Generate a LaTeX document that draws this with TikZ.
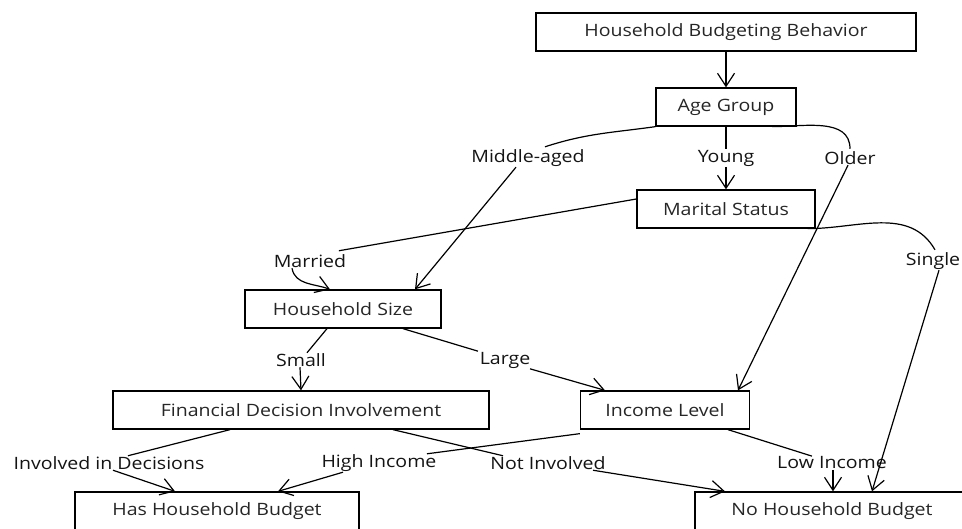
\documentclass[tikz,border=0pt]{standalone}
\usepackage{fontspec}
\setmainfont{Open Sans}[FakeStretch=1.15]
\usetikzlibrary{arrows.meta}
\begin{document}
\begin{tikzpicture}[x=1pt,y=-1pt,
  box/.style={draw=black,line width=1.3pt,rectangle,minimum height=38pt,inner sep=0pt,font=\fontsize{17}{19}\selectfont,text=black!85},
  lbl/.style={fill=white,inner sep=0.5pt,font=\fontsize{17}{19}\selectfont,text=black!92},
  edge/.style={draw=black,line width=1.2pt},
  arr/.style={edge,-{Straight Barb[length=13pt,width=17pt,line width=1.2pt]}}]
\useasboundingbox (0,0) rectangle (962,529);
% nodes
\node[box,minimum width=380pt] (hbb) at (726,32) {Household Budgeting Behavior};
\node[box,minimum width=140pt] (age) at (726,107) {Age Group};
\node[box,minimum width=178pt] (ms) at (726,209) {Marital Status};
\node[box,minimum width=196pt] (hs) at (343,309) {Household Size};
\node[box,minimum width=376pt] (fdi) at (301,410) {Financial Decision Involvement};
\node[box,minimum width=169pt] (inc) at (665,410) {Income Level};
\node[box,minimum width=284pt] (has) at (217,511) {Has Household Budget};
\node[box,minimum width=274pt] (no) at (832,511) {No Household Budget};
% labels
\node[lbl] (lmid) at (528,158) {Middle-aged};
\node[lbl] (lyoung) at (726,158) {Young};
\node[lbl] (lold) at (850,158) {Older};
\node[lbl] (lmar) at (310,261) {Married};
\node[lbl] (lsing) at (933,261) {Single};
\node[lbl] (lsmall) at (301,360) {Small};
\node[lbl] (llarge) at (505,360) {Large};
\node[lbl] (linv) at (109,463) {Involved in Decisions};
\node[lbl] (lhigh) at (379,463) {High Income};
\node[lbl] (lnot) at (548,463) {Not Involved};
\node[lbl] (llow) at (832,463) {Low Income};
% edges
\draw[arr] (hbb) -- (age);
\draw[edge] (age.south) -- (lyoung.north);
\draw[arr] (lyoung.south) -- (ms.north);
\draw[edge] (age.south west) to[out=188,in=18] ([xshift=17pt,yshift=2pt]lmid.north);
\draw[arr] ([xshift=-12pt]lmid.south) -- ([xshift=72pt]hs.north);
\draw[edge] ([xshift=46pt]age.south) to[out=0,in=90] ([yshift=2pt]lold.north);
\draw[arr] ([xshift=-2pt]lold.south) -- ([xshift=73pt]inc.north);
\draw[edge] ([yshift=10pt]ms.west) -- ([xshift=-8pt,yshift=3pt]lmar.north east);
\draw[arr] ([xshift=-18pt]lmar.south) to[out=-80,in=160] ([xshift=-13pt]hs.north);
\draw[edge] ([xshift=-8pt]ms.south east) to[out=0,in=120] ([xshift=2pt,yshift=2pt]lsing.north);
\draw[arr] ([xshift=6pt]lsing.south) -- ([xshift=40pt]no.north);
\draw[edge] ([xshift=-16pt]hs.south) -- ([xshift=6pt]lsmall.north);
\draw[arr] ([xshift=-1pt]lsmall.south) -- (fdi.north);
\draw[edge] ([xshift=60pt]hs.south) -- ([xshift=-27pt]llarge.north);
\draw[arr] ([xshift=25pt]llarge.south) -- ([xshift=-60pt]inc.north);
\draw[edge] ([xshift=-71pt]fdi.south) -- ([xshift=19pt]linv.north);
\draw[arr] ([xshift=4pt]linv.south) -- ([xshift=-42pt]has.north);
\draw[edge] ([xshift=92pt]fdi.south) -- ([xshift=-45pt]lnot.north);
\draw[arr] ([xshift=45pt]lnot.south) -- ([xshift=-107pt]no.north);
\draw[edge] ([yshift=-4pt]inc.south west) -- ([xshift=48pt]lhigh.north);
\draw[arr] ([xshift=-36pt]lhigh.south) -- ([xshift=61pt]has.north);
\draw[edge] ([xshift=63pt]inc.south) -- ([xshift=-20pt]llow.north);
\draw[arr] ([xshift=1pt]llow.south) -- ([xshift=1pt]no.north);
\end{tikzpicture}
\end{document}
